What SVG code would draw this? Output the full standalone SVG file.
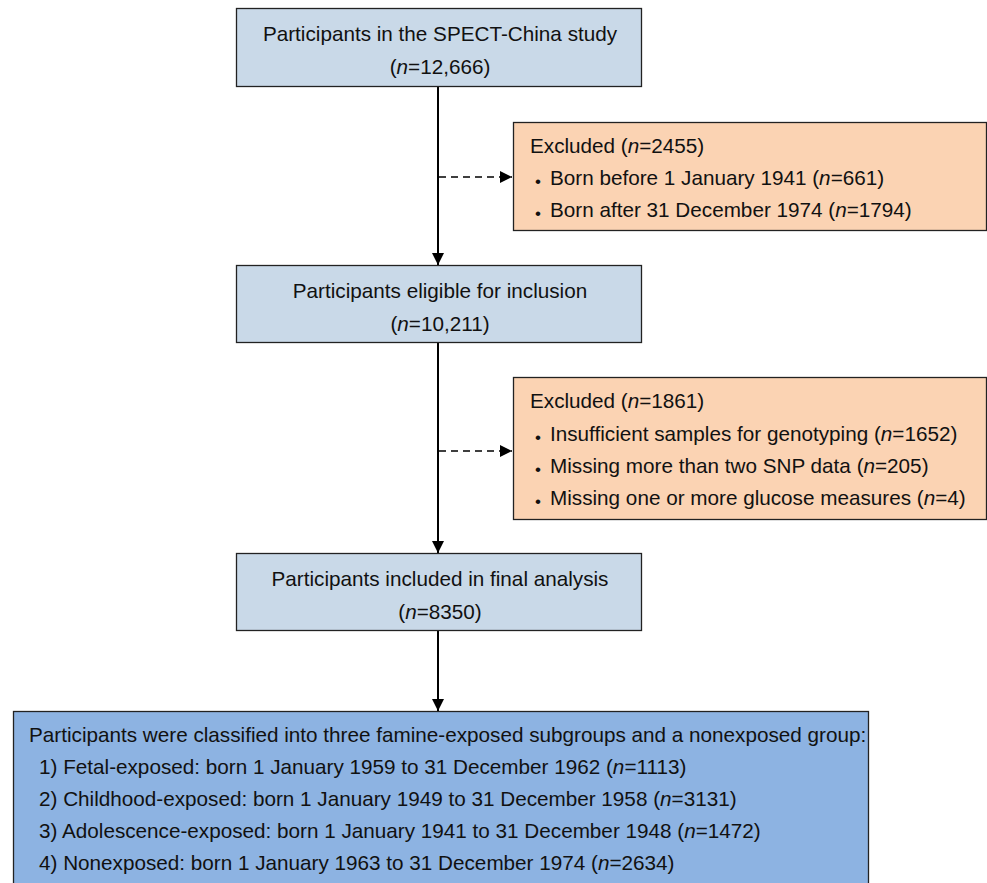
<svg xmlns="http://www.w3.org/2000/svg" width="987" height="883" viewBox="0 0 987 883">
<style>
text{font-family:"Liberation Sans",Arial,sans-serif;font-size:20.7px;fill:#111}
.c{text-anchor:middle}
.i{font-style:italic}
.bu{font-size:17px}
.b1{fill:#c9d9e8;stroke:#222;stroke-width:1.3}
.b2{fill:#fbd3b3;stroke:#222;stroke-width:1.3}
.b3{fill:#8db3e2;stroke:#222;stroke-width:1.3}
.ln{stroke:#000;stroke-width:2;fill:none}
.ds{stroke:#000;stroke-width:1.6;fill:none;stroke-dasharray:7,5}
</style>
<defs>
<marker id="ah" viewBox="0 0 10 10" refX="10" refY="5" markerWidth="12" markerHeight="12" markerUnits="userSpaceOnUse" orient="auto">
<path d="M0,0 L10,5 L0,10 z" fill="#000"/>
</marker>
</defs>
<g id="connectors">
<line class="ln" x1="438" y1="87" x2="438" y2="265" marker-end="url(#ah)"/>
<line class="ds" x1="439" y1="177" x2="512" y2="177" marker-end="url(#ah)"/>
<line class="ln" x1="438" y1="343" x2="438" y2="553" marker-end="url(#ah)"/>
<line class="ds" x1="439" y1="451" x2="512" y2="451" marker-end="url(#ah)"/>
<line class="ln" x1="438" y1="631" x2="438" y2="711" marker-end="url(#ah)"/>
</g>
<g id="n1">
<rect class="b1" x="236.5" y="8.5" width="405" height="78"/>
<text class="c" x="440" y="41">Participants in the SPECT-China study</text>
<text class="c" x="440" y="74">(<tspan class="i">n</tspan>=12,666)</text>
</g>
<g id="ex1">
<rect class="b2" x="513.5" y="122.5" width="473" height="108"/>
<text x="530" y="153">Excluded (<tspan class="i">n</tspan>=2455)</text>
<text class="bu" x="535" y="187">•</text><text x="550" y="185">Born before 1 January 1941 (<tspan class="i">n</tspan>=661)</text>
<text class="bu" x="535" y="219">•</text><text x="550" y="217">Born after 31 December 1974 (<tspan class="i">n</tspan>=1794)</text>
</g>
<g id="n2">
<rect class="b1" x="236.5" y="265.5" width="405" height="77"/>
<text class="c" x="440" y="298">Participants eligible for inclusion</text>
<text class="c" x="440" y="331">(<tspan class="i">n</tspan>=10,211)</text>
</g>
<g id="ex2">
<rect class="b2" x="513.5" y="377.5" width="473" height="142"/>
<text x="530" y="408">Excluded (<tspan class="i">n</tspan>=1861)</text>
<text class="bu" x="535" y="443">•</text><text x="550" y="441">Insufficient samples for genotyping (<tspan class="i">n</tspan>=1652)</text>
<text class="bu" x="535" y="475">•</text><text x="550" y="473">Missing more than two SNP data (<tspan class="i">n</tspan>=205)</text>
<text class="bu" x="535" y="507">•</text><text x="550" y="505">Missing one or more glucose measures (<tspan class="i">n</tspan>=4)</text>
</g>
<g id="n3">
<rect class="b1" x="236.5" y="553.5" width="405" height="77"/>
<text class="c" x="440" y="586">Participants included in final analysis</text>
<text class="c" x="440" y="619">(<tspan class="i">n</tspan>=8350)</text>
</g>
<g id="n4">
<rect class="b3" x="13.5" y="711.5" width="855" height="190"/>
<text x="29" y="742">Participants were classified into three famine-exposed subgroups and a nonexposed group:</text>
<text x="39" y="774">1) Fetal-exposed: born 1 January 1959 to 31 December 1962 (<tspan class="i">n</tspan>=1113)</text>
<text x="39" y="806">2) Childhood-exposed: born 1 January 1949 to 31 December 1958 (<tspan class="i">n</tspan>=3131)</text>
<text x="39" y="838">3) Adolescence-exposed: born 1 January 1941 to 31 December 1948 (<tspan class="i">n</tspan>=1472)</text>
<text x="39" y="870">4) Nonexposed: born 1 January 1963 to 31 December 1974 (<tspan class="i">n</tspan>=2634)</text>
</g>
</svg>
